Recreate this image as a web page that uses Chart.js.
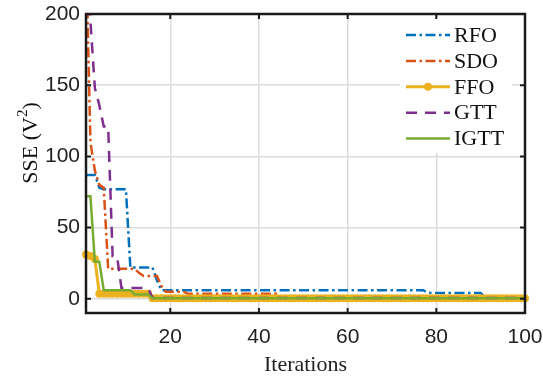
<!DOCTYPE html>
<html>
<head>
<meta charset="utf-8">
<script src="https://cdn.jsdelivr.net/npm/chart.js@4.4.0/dist/chart.umd.min.js"></script>
<style>
  html, body { margin: 0; padding: 0; background: #fff; }
  #wrap { width: 543px; height: 382px; }
</style>
</head>
<body>
<div id="wrap"><canvas id="sseChart" width="543" height="382"></canvas></div>
<script>
// iteration index 1..100 (x positions)
const iterations = Array.from({ length: 100 }, (_, i) => i + 1);

const rfo = [87, 87, 87, 78, 77, 77, 77, 77, 77, 77,
  22, 22, 22, 22, 22, 22, 13, 6, 6, 6,
  6, 6, 6, 6, 6, 6, 6, 6, 6, 6,
  6, 6, 6, 6, 6, 6, 6, 6, 6, 6,
  6, 6, 6, 6, 6, 6, 6, 6, 6, 6,
  6, 6, 6, 6, 6, 6, 6, 6, 6, 6,
  6, 6, 6, 6, 6, 6, 6, 6, 6, 6,
  6, 6, 6, 6, 6, 6, 6, 4.5, 4, 4,
  4, 4, 4, 4, 4, 4, 4, 4, 4, 4,
  0.8, 0.8, 0.8, 0.8, 0.8, 0.8, 0.8, 0.8, 0.8, 0.8];

const sdo = [245, 110, 90, 80, 78, 21, 21, 21, 21, 21,
  21, 21, 18, 16, 16, 16, 16, 9, 5, 5,
  5, 5, 5, 3.5, 3.5, 3.5, 3.5, 3.5, 3.5, 3.5,
  3.5, 3.5, 3.5, 3.5, 3.5, 3.5, 3.5, 3.5, 3.5, 3.5,
  3.5, 3.5, 3.5, 3.5, 0.8, 0.8, 0.8, 0.8, 0.8, 0.8,
  0.8, 0.8, 0.8, 0.8, 0.8, 0.8, 0.8, 0.8, 0.8, 0.8,
  0.8, 0.8, 0.8, 0.8, 0.8, 0.8, 0.8, 0.8, 0.8, 0.8,
  0.8, 0.8, 0.8, 0.8, 0.8, 0.8, 0.8, 0.8, 0.8, 0.8,
  0.8, 0.8, 0.8, 0.8, 0.8, 0.8, 0.8, 0.8, 0.8, 0.8,
  0.8, 0.8, 0.8, 0.8, 0.8, 0.8, 0.8, 0.8, 0.8, 0.8];

const ffo = [31, 30, 28, 3.5, 3.5, 3.5, 3.5, 3.5, 3.5, 3.5,
  3.5, 3.5, 3.5, 3.5, 3.5, 0.3, 0.3, 0.3, 0.3, 0.3,
  0.3, 0.3, 0.3, 0.3, 0.3, 0.3, 0.3, 0.3, 0.3, 0.3,
  0.3, 0.3, 0.3, 0.3, 0.3, 0.3, 0.3, 0.3, 0.3, 0.3,
  0.3, 0.3, 0.3, 0.3, 0.3, 0.3, 0.3, 0.3, 0.3, 0.3,
  0.3, 0.3, 0.3, 0.3, 0.3, 0.3, 0.3, 0.3, 0.3, 0.3,
  0.3, 0.3, 0.3, 0.3, 0.3, 0.3, 0.3, 0.3, 0.3, 0.3,
  0.3, 0.3, 0.3, 0.3, 0.3, 0.3, 0.3, 0.3, 0.3, 0.3,
  0.3, 0.3, 0.3, 0.3, 0.3, 0.3, 0.3, 0.3, 0.3, 0.3,
  0.3, 0.3, 0.3, 0.3, 0.3, 0.3, 0.3, 0.3, 0.3, 0.3];

const gtt = [260, 195, 148, 136, 121, 121, 30, 30, 7.5, 7.5,
  7.5, 7.5, 7.5, 7.5, 7.5, 0.5, 0.5, 0.5, 0.5, 0.5,
  0.5, 0.5, 0.5, 0.5, 0.5, 0.5, 0.5, 0.5, 0.5, 0.5,
  0.5, 0.5, 0.5, 0.5, 0.5, 0.5, 0.5, 0.5, 0.5, 0.5,
  0.5, 0.5, 0.5, 0.5, 0.5, 0.5, 0.5, 0.5, 0.5, 0.5,
  0.5, 0.5, 0.5, 0.5, 0.5, 0.5, 0.5, 0.5, 0.5, 0.5,
  0.5, 0.5, 0.5, 0.5, 0.5, 0.5, 0.5, 0.5, 0.5, 0.5,
  0.5, 0.5, 0.5, 0.5, 0.5, 0.5, 0.5, 0.5, 0.5, 0.5,
  0.5, 0.5, 0.5, 0.5, 0.5, 0.5, 0.5, 0.5, 0.5, 0.5,
  0.5, 0.5, 0.5, 0.5, 0.5, 0.5, 0.5, 0.5, 0.5, 0.5];

const igtt = [72, 72, 26, 26, 6, 6, 6, 6, 6, 6,
  6, 3, 3, 3, 3, 0.3, 0.3, 0.3, 0.3, 0.3,
  0.3, 0.3, 0.3, 0.3, 0.3, 0.3, 0.3, 0.3, 0.3, 0.3,
  0.3, 0.3, 0.3, 0.3, 0.3, 0.3, 0.3, 0.3, 0.3, 0.3,
  0.3, 0.3, 0.3, 0.3, 0.3, 0.3, 0.3, 0.3, 0.3, 0.3,
  0.3, 0.3, 0.3, 0.3, 0.3, 0.3, 0.3, 0.3, 0.3, 0.3,
  0.3, 0.3, 0.3, 0.3, 0.3, 0.3, 0.3, 0.3, 0.3, 0.3,
  0.3, 0.3, 0.3, 0.3, 0.3, 0.3, 0.3, 0.3, 0.3, 0.3,
  0.3, 0.3, 0.3, 0.3, 0.3, 0.3, 0.3, 0.3, 0.3, 0.3,
  0.3, 0.3, 0.3, 0.3, 0.3, 0.3, 0.3, 0.3, 0.3, 0.3];

const xTicks = [20, 40, 60, 80, 100];
const yTicks = [0, 50, 100, 150, 200];

const toPoints = (vals) => vals.map((v, i) => ({ x: iterations[i], y: v }));

const dashDot = [10, 3.5, 2.5, 3.5];

// MATLAB-style box, inward ticks, y label and in-axes legend
const matlabAxes = {
    id: "matlabAxes",
    afterDraw(chart) {
        const { ctx, chartArea: a, scales } = chart;

        // legend
        ctx.save();
        ctx.fillStyle = "#fff";
        ctx.fillRect(400, 17, 112, 136);
        chart.data.datasets.forEach((ds, i) => {
            const y = 35 + i * 25.9;
            ctx.strokeStyle = ds.borderColor;
            ctx.lineWidth = ds.borderWidth;
            ctx.setLineDash(ds.borderDash || []);
            ctx.beginPath();
            ctx.moveTo(406, y);
            ctx.lineTo(450, y);
            ctx.stroke();
            if (ds.pointRadius > 0) {
                ctx.setLineDash([]);
                ctx.fillStyle = ds.borderColor;
                ctx.beginPath();
                ctx.arc(428, y, 4, 0, Math.PI * 2);
                ctx.fill();
            }
            ctx.fillStyle = "#111";
            ctx.font = "22px 'Liberation Serif'";
            ctx.textBaseline = "middle";
            ctx.textAlign = "left";
            ctx.fillText(ds.label, 454, y + 1);
        });
        ctx.restore();

        // box + inward ticks
        ctx.save();
        ctx.strokeStyle = "#1a1a1a";
        ctx.lineWidth = 2.5;
        ctx.setLineDash([]);
        ctx.strokeRect(a.left, a.top, a.right - a.left, a.bottom - a.top);
        ctx.lineWidth = 2;
        ctx.beginPath();
        xTicks.forEach(v => {
            const x = scales.x.getPixelForValue(v);
            ctx.moveTo(x, a.bottom); ctx.lineTo(x, a.bottom - 5);
            ctx.moveTo(x, a.top); ctx.lineTo(x, a.top + 5);
        });
        yTicks.forEach(v => {
            const y = scales.y.getPixelForValue(v);
            ctx.moveTo(a.left, y); ctx.lineTo(a.left + 5, y);
            ctx.moveTo(a.right, y); ctx.lineTo(a.right - 5, y);
        });
        ctx.stroke();
        ctx.restore();

        // y label with superscript
        ctx.save();
        ctx.translate(31, 143);
        ctx.rotate(-Math.PI / 2);
        ctx.fillStyle = "#111";
        ctx.textBaseline = "middle";
        ctx.textAlign = "left";
        const main = "22px 'Liberation Serif'";
        const sup = "15px 'Liberation Serif'";
        ctx.font = main;
        const w1 = ctx.measureText("SSE (V").width;
        const w3 = ctx.measureText(")").width;
        ctx.font = sup;
        const w2 = ctx.measureText("2").width;
        let x0 = -(w1 + w2 + w3) / 2;
        ctx.font = main;
        ctx.fillText("SSE (V", x0, 0);
        ctx.font = sup;
        ctx.fillText("2", x0 + w1, -8);
        ctx.font = main;
        ctx.fillText(")", x0 + w1 + w2, 0);
        ctx.restore();
    }
};

const lineSet = (label, data, color, dash, order, extra) => Object.assign({
    label: label,
    data: toPoints(data),
    borderColor: color,
    backgroundColor: color,
    borderWidth: 2.5,
    borderDash: dash,
    pointRadius: 0,
    tension: 0,
    order: order,
    clip: { left: 6, right: 6, top: 0, bottom: 0 }
}, extra || {});

new Chart(document.getElementById("sseChart"), {
    type: "line",
    data: {
        datasets: [
            lineSet("RFO", rfo, "#0072BD", dashDot, 5),
            lineSet("SDO", sdo, "#D95319", dashDot, 4),
            lineSet("FFO", ffo, "#EDB120", [], 3, {
                borderWidth: 3,
                pointRadius: 4,
                pointBackgroundColor: "#EDB120",
                pointBorderWidth: 0
            }),
            lineSet("GTT", gtt, "#7E2F8E", [11, 8], 2),
            lineSet("IGTT", igtt, "#77AC30", [], 1)
        ]
    },
    options: {
        responsive: false,
        animation: false,
        devicePixelRatio: 1,
        layout: { autoPadding: false, padding: { left: 0, top: 14, right: 18, bottom: 0 } },
        plugins: { legend: { display: false }, tooltip: { enabled: false } },
        scales: {
            x: {
                type: "linear",
                min: 1,
                max: 100,
                afterBuildTicks: (s) => { s.ticks = xTicks.map(v => ({ value: v })); },
                afterFit: (s) => {
                    s.height = 69;
                    s.paddingLeft = 0;
                    s.paddingRight = 0;
                },
                grid: { color: "#dcdcdc", lineWidth: 1.5, drawTicks: false },
                border: { display: false },
                ticks: {
                    padding: 12,
                    color: "#222",
                    font: { family: "'Liberation Sans'", size: 21 },
                    maxRotation: 0
                },
                title: {
                    display: true,
                    text: "Iterations",
                    color: "#222",
                    font: { family: "'Liberation Serif'", size: 22 },
                    padding: { top: 0, bottom: 4 }
                }
            },
            y: {
                min: -10,
                max: 200,
                afterBuildTicks: (s) => { s.ticks = yTicks.map(v => ({ value: v })); },
                afterFit: (s) => {
                    s.width = 86;
                    s.paddingTop = 0;
                    s.paddingBottom = 0;
                },
                grid: { color: "#dcdcdc", lineWidth: 1.5, drawTicks: false },
                border: { display: false },
                ticks: {
                    padding: 6,
                    color: "#222",
                    font: { family: "'Liberation Sans'", size: 21 }
                }
            }
        }
    },
    plugins: [matlabAxes]
});
</script>
</body>
</html>
